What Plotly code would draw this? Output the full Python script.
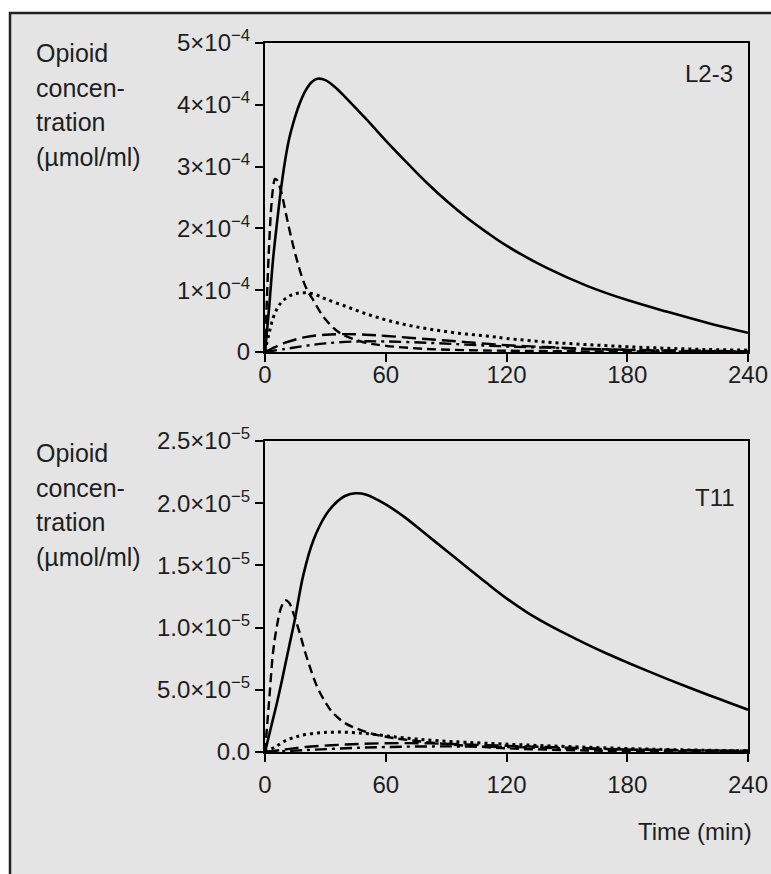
import plotly.graph_objects as go

# ---------------- data ----------------
# L2-3 panel (values in units of 1e-4 umol/ml)
l23_solid_t = [0, 2, 4, 6, 8, 10, 12, 14, 17, 20, 23, 26, 30, 35, 40, 45, 50, 60, 70, 80, 90, 100, 110, 120, 140, 160, 180, 200, 220, 240]
l23_solid_v = [0, 0.7, 1.5, 2.1, 2.65, 3.1, 3.45, 3.7, 4.0, 4.22, 4.36, 4.42, 4.40, 4.28, 4.12, 3.95, 3.78, 3.42, 3.08, 2.75, 2.45, 2.18, 1.94, 1.72, 1.36, 1.07, 0.84, 0.65, 0.47, 0.31]

l23_dash_t = [0, 1, 2, 3, 4, 5, 6, 8, 10, 12, 14, 16, 18, 20, 22, 24, 27, 30, 35, 40, 50, 60, 80, 100, 120, 160, 240]
l23_dash_v = [0, 0.9, 1.7, 2.3, 2.65, 2.8, 2.78, 2.6, 2.3, 2.0, 1.72, 1.47, 1.25, 1.07, 0.94, 0.84, 0.67, 0.53, 0.36, 0.26, 0.15, 0.1, 0.05, 0.03, 0.02, 0.01, 0.003]

l23_dot_t = [0, 2, 4, 6, 8, 10, 13, 16, 20, 25, 30, 40, 50, 60, 70, 80, 90, 100, 110, 120, 140, 160, 180, 200, 220, 240]
l23_dot_v = [0, 0.3, 0.55, 0.7, 0.8, 0.86, 0.92, 0.95, 0.96, 0.93, 0.86, 0.74, 0.62, 0.52, 0.44, 0.38, 0.33, 0.29, 0.26, 0.22, 0.16, 0.12, 0.085, 0.06, 0.04, 0.03]

l23_long_t = [0, 5, 10, 20, 30, 40, 50, 60, 80, 100, 120, 140, 160, 180, 200, 240]
l23_long_v = [0, 0.08, 0.15, 0.24, 0.28, 0.29, 0.28, 0.26, 0.21, 0.16, 0.11, 0.08, 0.05, 0.035, 0.02, 0.01]

l23_dd_t = [0, 10, 20, 30, 45, 60, 80, 100, 120, 140, 160, 180, 200, 240]
l23_dd_v = [0, 0.05, 0.1, 0.14, 0.17, 0.17, 0.15, 0.12, 0.09, 0.07, 0.05, 0.035, 0.025, 0.012]

# T11 panel (values in units of 1e-5 umol/ml)
t11_solid_t = [0, 3, 6, 9, 12, 15, 19, 24, 30, 35, 40, 45, 50, 60, 70, 80, 90, 100, 110, 120, 130, 140, 150, 160, 170, 180, 190, 200, 210, 220, 230, 240]
t11_solid_v = [0, 0.2, 0.4, 0.62, 0.85, 1.08, 1.42, 1.7, 1.9, 2.0, 2.06, 2.08, 2.07, 1.99, 1.88, 1.75, 1.62, 1.49, 1.36, 1.235, 1.125, 1.03, 0.945, 0.865, 0.79, 0.72, 0.652, 0.586, 0.522, 0.46, 0.40, 0.34]

t11_dash_t = [0, 2, 4, 6, 8, 10, 12, 14, 17, 20, 23, 26, 30, 34, 40, 47, 55, 65, 80, 100, 120, 150, 180, 240]
t11_dash_v = [0, 0.4, 0.8, 1.02, 1.16, 1.22, 1.2, 1.12, 0.97, 0.8, 0.65, 0.52, 0.4, 0.31, 0.23, 0.18, 0.14, 0.11, 0.08, 0.05, 0.03, 0.015, 0.008, 0.003]

t11_dot_t = [0, 5, 10, 15, 20, 28, 36, 45, 55, 65, 75, 86, 100, 119, 140, 160, 180, 200, 220, 240]
t11_dot_v = [0, 0.04, 0.09, 0.12, 0.14, 0.155, 0.16, 0.155, 0.14, 0.12, 0.105, 0.09, 0.078, 0.064, 0.05, 0.038, 0.028, 0.02, 0.014, 0.01]

t11_long_t = [0, 10, 20, 40, 60, 80, 100, 120, 150, 180, 240]
t11_long_v = [0, 0.02, 0.04, 0.06, 0.07, 0.07, 0.06, 0.05, 0.035, 0.02, 0.01]

t11_dd_t = [0, 20, 40, 60, 90, 120, 150, 180, 240]
t11_dd_v = [0, 0.015, 0.03, 0.04, 0.045, 0.04, 0.03, 0.02, 0.01]

x_tickvals = [0, 60, 120, 180, 240]
x_ticktext = ["0", "60", "120", "180", "240"]

top_tickvals = [0, 1e-4, 2e-4, 3e-4, 4e-4, 5e-4]
top_ticktext = ["0", "1×10<sup>−4</sup>", "2×10<sup>−4</sup>", "3×10<sup>−4</sup>",
                "4×10<sup>−4</sup>", "5×10<sup>−4</sup>"]
bot_tickvals = [0, 0.5e-5, 1.0e-5, 1.5e-5, 2.0e-5, 2.5e-5]
bot_ticktext = ["0.0", "5.0×10<sup>−5</sup>", "1.0×10<sup>−5</sup>", "1.5×10<sup>−5</sup>",
                "2.0×10<sup>−5</sup>", "2.5×10<sup>−5</sup>"]

ylabel_lines = ["Opioid", "concen-", "tration", "(µmol/ml)"]
panel_labels = ["L2-3", "T11"]
xlabel = "Time (min)"

# ---------------- figure ----------------
W, H = 771, 874
FONT = "Liberation Sans, Arial, Helvetica, sans-serif"
TXT = "#1e1e1e"

def px(x):
    return x / W

def py(y):
    return 1 - y / H

fig = go.Figure()

styles = [
    dict(color="black", width=2.6, dash="solid"),
    dict(color="black", width=2.4, dash="9px,5px"),
    dict(color="black", width=3.0, dash="3px,4px"),
    dict(color="black", width=2.4, dash="14px,6px"),
    dict(color="black", width=2.4, dash="12px,5px,3px,5px"),
]

top_series = [(l23_solid_t, l23_solid_v), (l23_dash_t, l23_dash_v), (l23_dot_t, l23_dot_v),
              (l23_long_t, l23_long_v), (l23_dd_t, l23_dd_v)]
bot_series = [(t11_solid_t, t11_solid_v), (t11_dash_t, t11_dash_v), (t11_dot_t, t11_dot_v),
              (t11_long_t, t11_long_v), (t11_dd_t, t11_dd_v)]

for (t, v), st in zip(top_series, styles):
    fig.add_trace(go.Scatter(x=t, y=[a * 1e-4 for a in v], mode="lines",
                             line=dict(shape="spline", smoothing=1.0, **st),
                             xaxis="x", yaxis="y", showlegend=False, hoverinfo="skip"))
for (t, v), st in zip(bot_series, styles):
    fig.add_trace(go.Scatter(x=t, y=[a * 1e-5 for a in v], mode="lines",
                             line=dict(shape="spline", smoothing=1.0, **st),
                             xaxis="x2", yaxis="y2", showlegend=False, hoverinfo="skip"))

axis_common = dict(showline=True, linecolor="black", linewidth=2, mirror=True,
                   ticks="outside", ticklen=8, tickwidth=2, tickcolor="black",
                   showgrid=False, zeroline=False, automargin=False,
                   tickfont=dict(family=FONT, size=24, color=TXT))

xdom = [px(265), px(748)]
fig.update_layout(
    template="none",
    width=W, height=H, autosize=False,
    margin=dict(l=0, r=0, t=0, b=0, pad=0, autoexpand=False),
    paper_bgcolor="white", plot_bgcolor="white",
    xaxis=dict(domain=xdom, range=[0, 240], tickvals=x_tickvals, ticktext=x_ticktext,
               anchor="y", ticklabelstandoff=-8, **axis_common),
    yaxis=dict(domain=[py(352), py(43)], range=[0, 5e-4], tickvals=top_tickvals,
               ticktext=top_ticktext, anchor="x", **axis_common),
    xaxis2=dict(domain=xdom, range=[0, 240], tickvals=x_tickvals, ticktext=x_ticktext,
                anchor="y2", ticklabelstandoff=2, **axis_common),
    yaxis2=dict(domain=[py(752), py(441)], range=[0, 2.5e-5], tickvals=bot_tickvals,
                ticktext=bot_ticktext, anchor="x2", **axis_common),
)

# gray framed background box
fig.add_shape(type="rect", xref="paper", yref="paper",
              x0=px(10), y0=py(890), x1=px(790), y1=py(13),
              fillcolor="#e4e4e4", line=dict(color="#222", width=2.5), layer="below")

annos = []
for centers in ([53, 88, 122, 157], [453, 488, 522, 557]):
    for txt, yc in zip(ylabel_lines, centers):
        annos.append(dict(text=txt, xref="paper", yref="paper", x=px(34), y=py(yc),
                          xanchor="left", yanchor="middle", showarrow=False,
                          font=dict(family=FONT, size=25, color=TXT)))
annos.append(dict(text=panel_labels[0], xref="paper", yref="paper", x=px(735), y=py(73),
                  xanchor="right", yanchor="middle", showarrow=False,
                  font=dict(family=FONT, size=24, color=TXT)))
annos.append(dict(text=panel_labels[1], xref="paper", yref="paper", x=px(737), y=py(497),
                  xanchor="right", yanchor="middle", showarrow=False,
                  font=dict(family=FONT, size=24, color=TXT)))
annos.append(dict(text=xlabel, xref="paper", yref="paper", x=px(754), y=py(831),
                  xanchor="right", yanchor="middle", showarrow=False,
                  font=dict(family=FONT, size=24, color=TXT)))
fig.update_layout(annotations=annos)

fig.write_html("out.html", config={"displayModeBar": False},
               post_script="document.body.style.margin='0';document.body.style.padding='0';"
                           "document.documentElement.style.overflow='hidden';")
